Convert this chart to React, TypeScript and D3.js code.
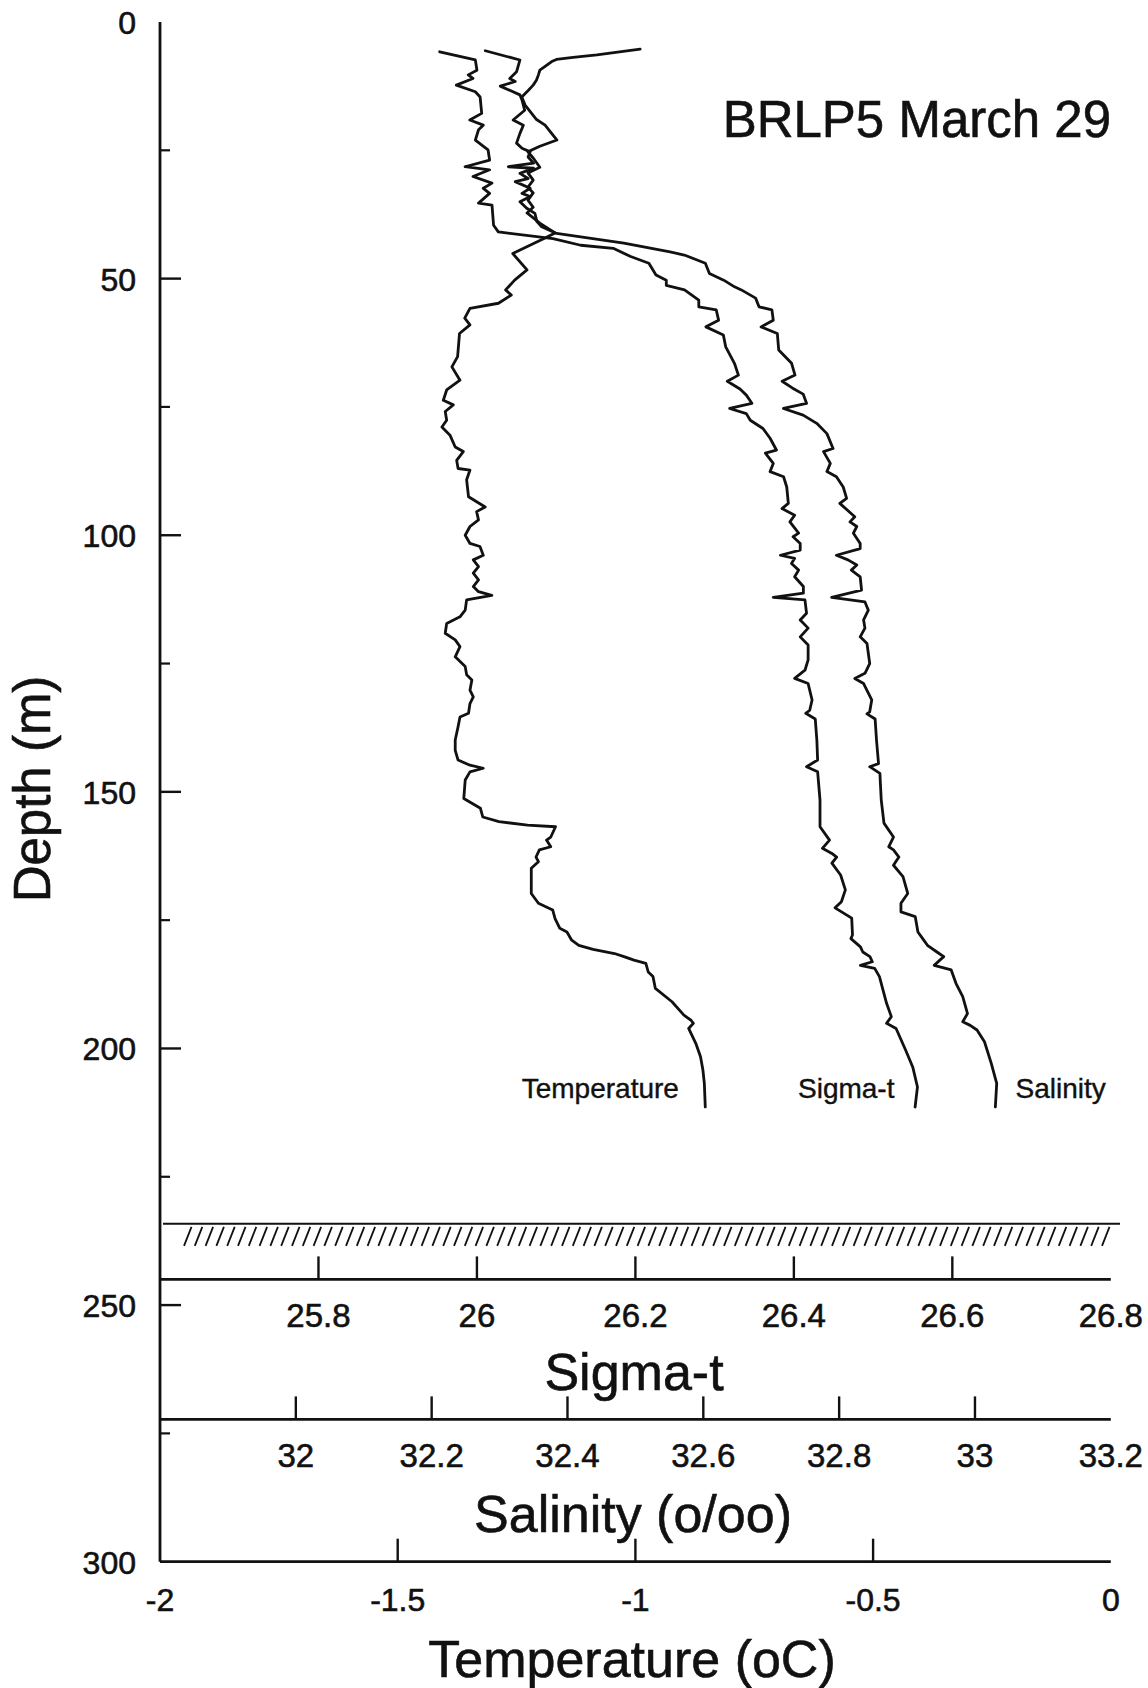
import React from 'react';
import * as d3 from 'd3';

// ---- Tick values ----
const depthTicks = [0, 50, 100, 150, 200, 250, 300];
const depthMinorTicks = [25, 75, 125, 175, 225, 275];
const tempTicks = [-2, -1.5, -1, -0.5, 0];
const sigmaTicks = [25.8, 26, 26.2, 26.4, 26.6, 26.8];
const salinityTicks = [32, 32.2, 32.4, 32.6, 32.8, 33, 33.2];

// ---- Profiles: [depth (m), value] ----
const temperature: [number, number][] = [
  [5.3,-0.990],[6.4,-1.081],[6.9,-1.131],[7.3,-1.166],[7.7,-1.176],[9.4,-1.201],[10.3,-1.204],[11.3,-1.208],[12.3,-1.215],[13.3,-1.225],[14.6,-1.239],[16.2,-1.232],[19.0,-1.208],[20.1,-1.190],[23.0,-1.165],[24.2,-1.201],[25.3,-1.226],[26.5,-1.215],[28.3,-1.201],[29.4,-1.226],[30.8,-1.215],[32.2,-1.226],[33.3,-1.215],[34.7,-1.226],[36.1,-1.215],[37.2,-1.228],[39.2,-1.201],[41.1,-1.169],[42.1,-1.190],[45.1,-1.258],[48.3,-1.228],[50.3,-1.254],[52.2,-1.273],[53.2,-1.261],[54.8,-1.288],[55.8,-1.348],[57.7,-1.359],[59.0,-1.348],[60.7,-1.370],[65.2,-1.374],[67.2,-1.386],[69.8,-1.369],[71.7,-1.397],[73.7,-1.404],[74.6,-1.383],[75.9,-1.400],[77.6,-1.397],[78.9,-1.407],[80.5,-1.390],[82.8,-1.379],[83.7,-1.362],[85.4,-1.376],[87.0,-1.373],[87.3,-1.348],[89.2,-1.355],[92.5,-1.351],[94.5,-1.316],[95.4,-1.334],[97.0,-1.330],[98.3,-1.348],[100.0,-1.358],[101.6,-1.348],[102.2,-1.327],[103.9,-1.320],[104.8,-1.341],[106.1,-1.330],[107.4,-1.341],[108.7,-1.330],[110.0,-1.341],[111.0,-1.330],[111.7,-1.302],[112.6,-1.355],[114.6,-1.358],[115.9,-1.369],[117.2,-1.397],[119.1,-1.400],[120.4,-1.379],[121.7,-1.369],[123.7,-1.379],[125.6,-1.358],[127.2,-1.355],[128.2,-1.344],[130.2,-1.348],[131.5,-1.341],[132.8,-1.348],[134.7,-1.351],[135.4,-1.369],[137.3,-1.373],[139.9,-1.379],[141.9,-1.379],[143.8,-1.373],[144.8,-1.348],[145.4,-1.320],[146.1,-1.348],[147.7,-1.358],[151.3,-1.361],[153.2,-1.326],[154.9,-1.321],[155.8,-1.287],[156.5,-1.227],[156.8,-1.168],[158.8,-1.178],[159.4,-1.187],[160.7,-1.178],[161.3,-1.202],[162.7,-1.209],[163.6,-1.204],[164.9,-1.219],[169.8,-1.219],[171.7,-1.204],[173.0,-1.174],[174.7,-1.169],[176.6,-1.159],[177.3,-1.144],[178.9,-1.134],[179.9,-1.119],[180.7,-1.089],[181.5,-1.044],[182.1,-1.024],[182.8,-1.003],[183.4,-0.978],[185.1,-0.973],[186.0,-0.963],[188.3,-0.958],[190.9,-0.923],[193.5,-0.898],[194.5,-0.883],[195.1,-0.878],[196.1,-0.888],[199.0,-0.873],[201.6,-0.863],[204.2,-0.858],[206.8,-0.855],[211.4,-0.853]
];

const sigmaT: [number, number][] = [
  [5.8,25.953],[7.4,25.998],[9.4,26.000],[10.3,25.989],[11.0,25.995],[12.3,25.974],[13.6,25.998],[14.6,26.004],[17.8,26.006],[19.1,25.991],[20.1,26.008],[21.0,26.002],[23.0,25.998],[24.9,26.014],[26.9,26.016],[28.2,25.985],[28.8,26.016],[30.1,25.995],[31.4,26.019],[32.4,26.008],[33.4,26.016],[35.3,26.002],[35.7,26.019],[39.6,26.021],[40.9,26.027],[42.2,26.096],[43.5,26.131],[44.1,26.172],[45.7,26.194],[47.0,26.217],[49.3,26.226],[50.3,26.239],[51.3,26.239],[52.2,26.262],[54.2,26.280],[55.5,26.280],[56.1,26.302],[58.1,26.305],[59.4,26.289],[61.0,26.311],[63.3,26.314],[66.5,26.325],[68.8,26.330],[70.0,26.316],[71.5,26.332],[72.7,26.340],[74.3,26.347],[75.3,26.319],[76.3,26.340],[77.6,26.345],[79.2,26.361],[81.1,26.370],[83.4,26.378],[84.0,26.364],[86.0,26.374],[87.6,26.370],[88.6,26.387],[90.6,26.391],[93.8,26.393],[94.8,26.385],[96.1,26.401],[97.4,26.395],[99.6,26.406],[100.3,26.399],[101.6,26.408],[102.9,26.408],[103.9,26.383],[104.5,26.401],[105.5,26.397],[106.8,26.406],[108.1,26.401],[110.0,26.412],[111.3,26.412],[112.1,26.374],[112.6,26.414],[115.2,26.416],[116.5,26.408],[118.1,26.418],[119.8,26.408],[121.4,26.418],[124.3,26.418],[126.3,26.414],[127.9,26.401],[128.9,26.418],[132.1,26.423],[134.1,26.420],[134.7,26.415],[135.8,26.427],[139.9,26.429],[143.8,26.430],[145.1,26.416],[146.1,26.430],[151.6,26.433],[156.8,26.433],[159.4,26.445],[161.0,26.436],[162.0,26.448],[162.7,26.454],[163.9,26.448],[166.2,26.459],[169.1,26.465],[171.4,26.460],[172.6,26.452],[174.6,26.473],[177.9,26.474],[178.6,26.472],[180.2,26.484],[181.2,26.487],[182.1,26.496],[183.1,26.499],[183.8,26.484],[184.4,26.502],[186.0,26.508],[191.2,26.517],[193.8,26.523],[195.1,26.517],[196.1,26.529],[200.3,26.541],[203.6,26.550],[207.5,26.556],[211.4,26.553]
];

const salinity: [number, number][] = [
  [5.6,32.279],[7.4,32.330],[9.7,32.325],[11.0,32.315],[11.6,32.323],[12.5,32.301],[14.2,32.330],[15.2,32.333],[17.2,32.337],[19.1,32.320],[20.1,32.335],[21.7,32.330],[23.6,32.325],[24.6,32.333],[25.3,32.345],[26.3,32.342],[27.5,32.350],[28.2,32.313],[28.5,32.350],[29.5,32.330],[30.5,32.342],[31.1,32.323],[32.4,32.345],[33.4,32.333],[34.0,32.345],[35.0,32.330],[36.3,32.340],[37.3,32.352],[38.9,32.355],[39.9,32.362],[41.2,32.384],[43.1,32.483],[44.8,32.551],[45.4,32.572],[47.0,32.603],[49.0,32.609],[50.3,32.630],[51.6,32.646],[52.2,32.656],[53.8,32.677],[55.5,32.682],[56.1,32.701],[58.1,32.703],[59.4,32.685],[60.7,32.709],[63.9,32.711],[66.5,32.730],[68.8,32.735],[70.0,32.716],[71.3,32.731],[72.5,32.747],[74.3,32.752],[75.3,32.718],[76.6,32.747],[78.2,32.767],[80.2,32.782],[83.1,32.791],[83.7,32.777],[86.0,32.787],[87.6,32.782],[88.6,32.796],[90.6,32.806],[92.8,32.811],[93.8,32.801],[96.4,32.823],[97.4,32.816],[98.3,32.826],[99.6,32.821],[101.6,32.831],[102.6,32.831],[103.9,32.796],[104.8,32.813],[105.8,32.826],[106.8,32.818],[108.1,32.831],[110.7,32.833],[112.1,32.789],[113.0,32.838],[114.6,32.843],[116.5,32.836],[118.1,32.838],[119.8,32.831],[121.1,32.841],[125.0,32.845],[126.9,32.838],[127.9,32.823],[128.9,32.836],[132.1,32.848],[134.4,32.845],[134.8,32.841],[135.8,32.853],[139.9,32.855],[144.5,32.858],[145.1,32.845],[146.4,32.860],[151.6,32.862],[156.1,32.866],[158.8,32.880],[160.7,32.873],[161.3,32.880],[162.7,32.888],[164.3,32.880],[166.5,32.894],[169.8,32.901],[171.7,32.891],[173.4,32.891],[174.3,32.912],[177.3,32.916],[178.6,32.923],[179.9,32.930],[181.2,32.944],[182.1,32.954],[183.8,32.940],[184.7,32.965],[187.3,32.972],[189.9,32.982],[193.2,32.989],[194.8,32.982],[195.5,32.993],[196.4,33.003],[198.7,33.014],[202.9,33.024],[206.8,33.032],[211.4,33.030]
];

const FONT = "'Liberation Sans', Arial, Helvetica, sans-serif";

export default function App() {
  React.useEffect(() => {
    document.body.style.margin = '0';
    document.body.style.overflow = 'hidden';
  }, []);

  const W = 1148, H = 1688;
  const AX = 160;          // left axis x
  const XR = 1110.8;       // right end of horizontal axes
  const y = d3.scaleLinear().domain([0, 300]).range([22, 1561.7]);
  const xT = d3.scaleLinear().domain([-2, 0]).range([AX, XR]);
  const xSig = d3.scaleLinear().domain([25.6, 26.8]).range([AX, XR]);
  const xSal = d3.scaleLinear().domain([31.8, 33.2]).range([AX, XR]);

  const TEMP_Y = y(300);
  const SIG_Y = 1279.4;
  const SAL_Y = 1419.4;
  const HATCH_Y = 1223.8;

  const mk = (sx: d3.ScaleLinear<number, number>) =>
    d3.line<[number, number]>().x(d => sx(d[1])).y(d => y(d[0]));

  const hatchXs = d3.range(184, 1112, 10.8);
  const stroke = '#111';
  const txt = { fill: stroke, stroke: stroke, strokeWidth: 0.6 } as const;

  return (
    <svg width={W} height={H} style={{ position: 'absolute', left: 0, top: 0, background: '#fff' }} fontFamily={FONT}>
      <rect x={0} y={0} width={W} height={H} fill="#fff" />

      {/* Profiles */}
      <g fill="none" stroke={stroke} strokeWidth={2.8} strokeLinejoin="round" strokeLinecap="round">
        <path d={mk(xT)(temperature) || ''} />
        <path d={mk(xSig)(sigmaT) || ''} />
        <path d={mk(xSal)(salinity) || ''} />
      </g>

      {/* Left depth axis */}
      <line x1={AX} x2={AX} y1={y(0)} y2={TEMP_Y} stroke={stroke} strokeWidth={2.8} />
      {depthTicks.filter(d => d > 0 && d < 300).map(d => (
        <line key={'dt' + d} x1={AX} x2={AX + 21} y1={y(d)} y2={y(d)} stroke={stroke} strokeWidth={2.4} />
      ))}
      {depthMinorTicks.map(d => (
        <line key={'dm' + d} x1={AX} x2={AX + 10} y1={y(d)} y2={y(d)} stroke={stroke} strokeWidth={2.2} />
      ))}
      {depthTicks.map(d => (
        <text key={'dl' + d} x={136} y={y(d) + 12} fontSize={32} textAnchor="end" {...txt}>{d}</text>
      ))}
      <text transform={`translate(50, 789) rotate(-90)`} fontSize={51} textAnchor="middle" {...txt}>Depth (m)</text>

      {/* Hatched band */}
      <line x1={AX + 3} x2={1120} y1={HATCH_Y} y2={HATCH_Y} stroke={stroke} strokeWidth={2} />
      {hatchXs.map((hx, i) => (
        <line key={'h' + i} x1={hx} y1={HATCH_Y + 22} x2={hx + 7.5} y2={HATCH_Y + 3} stroke={stroke} strokeWidth={1.8} />
      ))}

      {/* Sigma-t axis */}
      <line x1={AX} x2={XR} y1={SIG_Y} y2={SIG_Y} stroke={stroke} strokeWidth={2.8} />
      {sigmaTicks.filter(v => v < 26.8).map(v => (
        <line key={'st' + v} x1={xSig(v)} x2={xSig(v)} y1={SIG_Y} y2={SIG_Y - 23} stroke={stroke} strokeWidth={2.4} />
      ))}
      {sigmaTicks.map(v => (
        <text key={'sl' + v} x={xSig(v)} y={1327} fontSize={33} textAnchor="middle" {...txt}>{String(v)}</text>
      ))}
      <text x={634} y={1390} fontSize={52} textAnchor="middle" {...txt}>Sigma-t</text>

      {/* Salinity axis */}
      <line x1={AX} x2={XR} y1={SAL_Y} y2={SAL_Y} stroke={stroke} strokeWidth={2.8} />
      {salinityTicks.filter(v => v < 33.2).map(v => (
        <line key={'at' + v} x1={xSal(v)} x2={xSal(v)} y1={SAL_Y} y2={SAL_Y - 23} stroke={stroke} strokeWidth={2.4} />
      ))}
      {salinityTicks.map(v => (
        <text key={'al' + v} x={xSal(v)} y={1467} fontSize={33} textAnchor="middle" {...txt}>{String(v)}</text>
      ))}
      <text x={633} y={1532} fontSize={52} textAnchor="middle" {...txt}>Salinity (o/oo)</text>

      {/* Temperature axis */}
      <line x1={AX} x2={XR} y1={TEMP_Y} y2={TEMP_Y} stroke={stroke} strokeWidth={2.8} />
      {tempTicks.filter(v => v > -2 && v < 0).map(v => (
        <line key={'tt' + v} x1={xT(v)} x2={xT(v)} y1={TEMP_Y} y2={TEMP_Y - 23} stroke={stroke} strokeWidth={2.4} />
      ))}
      {tempTicks.map(v => (
        <text key={'tl' + v} x={xT(v)} y={1611} fontSize={32} textAnchor="middle" {...txt}>{String(v)}</text>
      ))}
      <text x={632} y={1677} fontSize={52} textAnchor="middle" {...txt}>Temperature (oC)</text>

      {/* Curve labels */}
      <text x={521.7} y={1098} fontSize={28} {...txt} strokeWidth={0.4}>Temperature</text>
      <text x={798} y={1098} fontSize={28} {...txt} strokeWidth={0.4}>Sigma-t</text>
      <text x={1015.5} y={1098} fontSize={28} {...txt} strokeWidth={0.4}>Salinity</text>

      {/* Station title */}
      <text x={1111} y={137} fontSize={51} textAnchor="end" {...txt}>BRLP5 March 29</text>
    </svg>
  );
}
